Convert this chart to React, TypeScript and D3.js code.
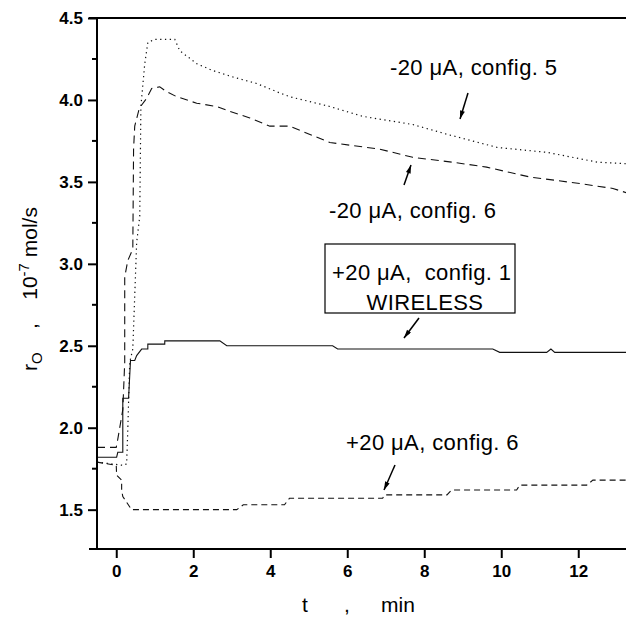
import React, { useRef, useEffect } from 'react';
import * as d3 from 'd3';

// tick labels
const xTickValues = [0, 2, 4, 6, 8, 10, 12];
const yTickValues = [1.5, 2.0, 2.5, 3.0, 3.5, 4.0, 4.5];
const yMinorValues = [1.75, 2.25, 2.75, 3.25, 3.75, 4.25];

// -20 uA, config. 5 (dotted)
const tNeg20c5 = [-0.5, 0.2, 0.27, 0.3, 0.35, 0.43, 0.53, 0.61, 0.64, 0.74, 0.82, 1.0, 1.52, 1.65, 2.1, 2.5, 3.03, 3.65, 4.17, 4.5, 5.55, 6.4, 7.7, 8.6, 9.9, 11.2, 12.5, 13.3];
const rNeg20c5 = [1.79, 1.77, 1.78, 1.99, 2.4, 2.48, 3.13, 3.29, 3.96, 4.22, 4.35, 4.37, 4.37, 4.3, 4.22, 4.18, 4.14, 4.1, 4.05, 4.02, 3.96, 3.9, 3.85, 3.79, 3.71, 3.68, 3.62, 3.61];

// -20 uA, config. 6 (long dash)
const tNeg20c6 = [-0.5, 0.0, 0.04, 0.17, 0.22, 0.22, 0.3, 0.43, 0.45, 0.48, 0.6, 0.79, 0.92, 1.13, 1.31, 1.57, 2.09, 2.61, 2.95, 3.47, 3.99, 4.5, 5.55, 6.84, 7.7, 8.74, 9.62, 10.74, 12.04, 12.9, 13.3];
const rNeg20c6 = [1.88, 1.88, 1.93, 2.11, 2.4, 2.92, 3.02, 3.09, 3.7, 3.84, 3.95, 4.01, 4.07, 4.08, 4.05, 4.02, 3.98, 3.96, 3.93, 3.89, 3.84, 3.84, 3.74, 3.7, 3.65, 3.62, 3.59, 3.53, 3.49, 3.46, 3.43];

// +20 uA, config. 1 WIRELESS (solid)
const tPos20c1 = [-0.5, 0.01, 0.04, 0.17, 0.17, 0.32, 0.37, 0.48, 0.53, 0.66, 0.82, 0.82, 1.26, 1.26, 2.69, 2.87, 5.62, 5.75, 9.78, 9.96, 11.18, 11.29, 11.39, 13.3];
const rPos20c1 = [1.82, 1.82, 1.85, 1.85, 2.18, 2.18, 2.41, 2.41, 2.44, 2.48, 2.48, 2.51, 2.51, 2.53, 2.53, 2.5, 2.5, 2.48, 2.48, 2.46, 2.46, 2.48, 2.46, 2.46];

// +20 uA, config. 6 (short dash)
const tPos20c6 = [-0.5, 0.0, 0.01, 0.14, 0.14, 0.17, 0.4, 3.13, 3.3, 4.37, 4.5, 6.92, 6.97, 8.59, 8.71, 10.4, 10.48, 12.22, 12.38, 13.3];
const rPos20c6 = [1.79, 1.77, 1.71, 1.68, 1.62, 1.58, 1.5, 1.5, 1.53, 1.53, 1.57, 1.57, 1.59, 1.59, 1.62, 1.62, 1.65, 1.65, 1.68, 1.68];

const FONT = "Arial, 'Liberation Sans', Helvetica, sans-serif";
const NB = '\u00a0';

const App = () => {
  const svgRef = useRef(null);

  useEffect(() => {
    const left = 97;
    const top = 18;
    const bottom = 549;
    const right = 626;

    const svg = d3.select(svgRef.current);
    svg.selectAll('*').remove();

    const x = d3.scaleLinear().domain([-0.5, 13.3]).range([left, left + 13.8 * 38.5]);
    const y = d3.scaleLinear().domain([1.26, 4.5]).range([bottom, top]);

    const defs = svg.append('defs');
    defs
      .append('clipPath')
      .attr('id', 'plot-clip')
      .append('rect')
      .attr('x', left)
      .attr('y', top)
      .attr('width', right - left)
      .attr('height', bottom - top);
    defs
      .append('marker')
      .attr('id', 'arrowhead')
      .attr('viewBox', '0 0 10 6')
      .attr('refX', 10)
      .attr('refY', 3)
      .attr('markerWidth', 10)
      .attr('markerHeight', 5)
      .attr('markerUnits', 'userSpaceOnUse')
      .attr('orient', 'auto')
      .append('path')
      .attr('d', 'M0,0 L10,3 L0,6 Z')
      .attr('fill', '#000');

    // series
    const line = d3
      .line()
      .x((d) => x(d[0]))
      .y((d) => y(d[1]));

    const series = [
      { t: tNeg20c5, r: rNeg20c5, dash: '1.3,3.5', w: 1.2 },
      { t: tNeg20c6, r: rNeg20c6, dash: '8,5', w: 1.1 },
      { t: tPos20c1, r: rPos20c1, dash: null, w: 1.1 },
      { t: tPos20c6, r: rPos20c6, dash: '6,4', w: 1.1 },
    ];

    const plot = svg.append('g').attr('clip-path', 'url(#plot-clip)');
    series.forEach((s) => {
      const pts = s.t.map((t, i) => [t, s.r[i]]);
      plot
        .append('path')
        .datum(pts)
        .attr('d', line)
        .attr('fill', 'none')
        .attr('stroke', '#111')
        .attr('stroke-width', s.w)
        .attr('stroke-dasharray', s.dash);
    });

    // frame
    svg.append('line').attr('x1', 89).attr('x2', right).attr('y1', top).attr('y2', top).attr('stroke', '#000').attr('stroke-width', 2);
    svg.append('line').attr('x1', 89).attr('x2', right).attr('y1', bottom).attr('y2', bottom).attr('stroke', '#000').attr('stroke-width', 2);

    // y axis
    const yAxis = svg
      .append('g')
      .attr('transform', `translate(${left},0)`)
      .call(d3.axisLeft(y).tickValues(yTickValues).tickSize(9).tickPadding(5).tickFormat(d3.format('.1f')));
    yAxis.select('.domain').attr('d', `M0,${top}V${bottom}`).attr('stroke-width', 2);
    yAxis.selectAll('.tick line').attr('stroke-width', 2);
    yAxis
      .selectAll('.tick text')
      .attr('font-family', FONT)
      .attr('font-size', 17)
      .attr('font-weight', 'bold')
      .attr('fill', '#000');

    svg
      .append('g')
      .selectAll('line')
      .data(yMinorValues)
      .enter()
      .append('line')
      .attr('x1', left - 5)
      .attr('x2', left)
      .attr('y1', (d) => y(d))
      .attr('y2', (d) => y(d))
      .attr('stroke', '#000')
      .attr('stroke-width', 2);

    // x axis
    const xAxis = svg
      .append('g')
      .attr('transform', `translate(0,${bottom})`)
      .call(d3.axisBottom(x).tickValues(xTickValues).tickSize(9).tickPadding(7).tickFormat(d3.format('d')));
    xAxis.select('.domain').remove();
    xAxis.selectAll('.tick line').attr('stroke-width', 2);
    xAxis
      .selectAll('.tick text')
      .attr('font-family', FONT)
      .attr('font-size', 17)
      .attr('font-weight', 'bold')
      .attr('fill', '#000');

    // axis titles
    const yTitle = svg
      .append('text')
      .attr('transform', 'translate(37,289) rotate(-90)')
      .attr('text-anchor', 'middle')
      .attr('font-family', FONT)
      .attr('font-size', 21);
    yTitle.append('tspan').text('r');
    yTitle.append('tspan').attr('font-size', 15).attr('dy', 5).text('O');
    yTitle.append('tspan').attr('dy', -5).text(`${NB}${NB}${NB}${NB},${NB}${NB}${NB}${NB}10`);
    yTitle.append('tspan').attr('font-size', 15).attr('dy', -8).text('-7');
    yTitle.append('tspan').attr('dy', 8).text(`${NB}mol/s`);

    const xTitle = svg.append('g').attr('font-family', FONT).attr('font-size', 21);
    xTitle.append('text').attr('x', 302).attr('y', 612).text('t');
    xTitle.append('text').attr('x', 344).attr('y', 612).text(',');
    xTitle.append('text').attr('x', 381).attr('y', 612).text('min');

    // annotations
    const notes = svg
      .append('g')
      .attr('font-family', FONT)
      .attr('font-size', 22)
      .attr('letter-spacing', 0.4);
    notes.append('text').attr('x', 390).attr('y', 75).text(`-20${NB}\u03bcA,${NB}config.${NB}5`);
    notes.append('text').attr('x', 329).attr('y', 218).text(`-20${NB}\u03bcA,${NB}config.${NB}6`);
    notes.append('text').attr('x', 332).attr('y', 280).text(`+20${NB}\u03bcA,${NB}${NB}config.${NB}1`);
    notes.append('text').attr('x', 425).attr('y', 310).attr('text-anchor', 'middle').text('WIRELESS');
    notes.append('text').attr('x', 346).attr('y', 450).text(`+20${NB}\u03bcA,${NB}config.${NB}6`);

    svg
      .append('rect')
      .attr('x', 325)
      .attr('y', 244)
      .attr('width', 190)
      .attr('height', 69)
      .attr('fill', 'none')
      .attr('stroke', '#000')
      .attr('stroke-width', 1.2);

    const arrows = [
      [468, 93, 460, 119],
      [404, 185, 411, 165],
      [419, 318, 404, 338],
      [395, 465, 384, 490],
    ];
    svg
      .append('g')
      .selectAll('line')
      .data(arrows)
      .enter()
      .append('line')
      .attr('x1', (d) => d[0])
      .attr('y1', (d) => d[1])
      .attr('x2', (d) => d[2])
      .attr('y2', (d) => d[3])
      .attr('stroke', '#000')
      .attr('stroke-width', 1.5)
      .attr('marker-end', 'url(#arrowhead)');
  }, []);

  return (
    <svg
      ref={svgRef}
      width={626}
      height={619}
      style={{ position: 'absolute', left: 0, top: 0, background: '#fff' }}
    />
  );
};

export default App;
